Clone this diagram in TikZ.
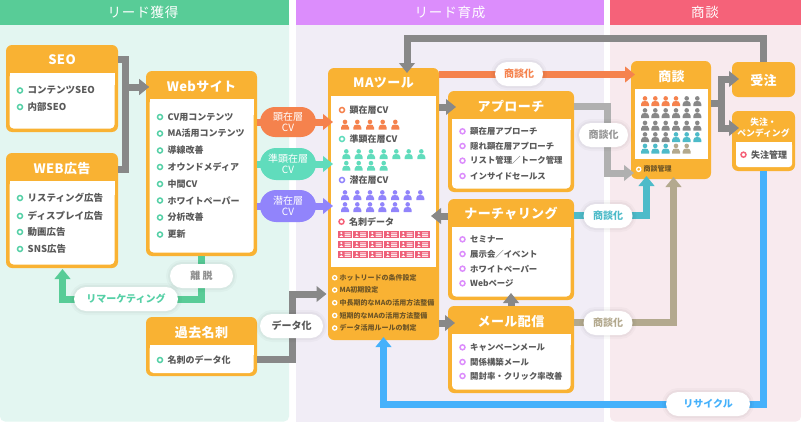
\documentclass[tikz,border=0pt]{standalone}
\usepackage{fontspec}
\setmainfont{Noto Sans CJK JP}
\newfontfamily\ttlfont[LetterSpace=3]{Noto Sans CJK JP}
\newfontfamily\hdfont[LetterSpace=6]{Noto Sans CJK JP}
\usetikzlibrary{arrows.meta,shapes.misc}
\definecolor{boxor}{HTML}{F9B233}
\definecolor{cgreen}{HTML}{58CC97}
\definecolor{cbullet}{HTML}{55D0A6}
\definecolor{cpur}{HTML}{DC8DFC}
\definecolor{cpink}{HTML}{F56279}
\definecolor{bgg}{HTML}{E3F6F1}
\definecolor{bgp}{HTML}{F1EDF6}
\definecolor{bgr}{HTML}{F8EAEE}
\definecolor{corg}{HTML}{F5824D}
\definecolor{cteal}{HTML}{60DCBC}
\definecolor{cvio}{HTML}{9184FB}
\definecolor{cgry}{HTML}{888888}
\definecolor{clgry}{HTML}{B0B0B0}
\definecolor{ccyan}{HTML}{4DBBC9}
\definecolor{ctan}{HTML}{B3A98E}
\definecolor{cblue}{HTML}{45B1FB}
\definecolor{ctxt}{HTML}{595959}
\definecolor{cbrown}{HTML}{6E5526}
\definecolor{ccard}{HTML}{EE6079}
\newcounter{itc}
\def\itsz{8.4}
\tikzset{
  obox/.style={fill=boxor,rounded corners=6pt,inner sep=0pt,outer sep=0pt,anchor=north west},
  ttl/.style={text=white,font=\ttlfont\bfseries\fontsize{13}{13}\selectfont,inner sep=0pt},
  itemtxt/.style={text=ctxt,anchor=west,inner sep=0pt,font=\bfseries\fontsize{\itsz}{10}\selectfont},
  bul/.style={circle,fill=white,line width=1.5pt,minimum size=5pt,inner sep=0pt},
  conn/.style={line width=7pt,-{Triangle[width=15.5pt,length=10pt]}},
  whitepill/.style={rounded rectangle,fill=white,inner sep=0pt,minimum height=24pt,
    preaction={draw=black,opacity=.025,line width=8pt},
    preaction={draw=black,opacity=.03,line width=4pt},
    font=\bfseries\fontsize{10}{10}\selectfont},
  cvpill/.style={rounded rectangle,inner sep=0pt,minimum width=56pt,text=white,align=center,
    font=\fontsize{10}{11}\selectfont},
  head/.style={text=white,inner sep=0pt,font=\hdfont\fontsize{13.5}{14}\selectfont},
}
\newcommand{\litem}[4]{\stepcounter{itc}%
  \node[bul,draw=#1] (b\theitc) at (#2,#3) {};
  \node[itemtxt] (t\theitc) at (#2+7.5,#3) {#4};}
\newcommand{\oitem}[3]{\stepcounter{itc}%
  \node[circle,draw=white,fill=boxor,line width=1.3pt,minimum size=4.2pt,inner sep=0pt] (b\theitc) at (#1,#2) {};
  \node[itemtxt,text=cbrown,font=\bfseries\fontsize{7}{8}\selectfont] (t\theitc) at (#1+4.8,#2) {#3};}
\newcommand{\prsn}[3]{\fill[#3] (#1,#2-2.6) circle (2.3);
  \fill[#3] (#1-4,#2+5) -- (#1-4,#2+3) .. controls (#1-4,#2+0.6) and (#1-2,#2) .. (#1,#2) .. controls (#1+2,#2) and (#1+4,#2+0.6) .. (#1+4,#2+3) -- (#1+4,#2+5) -- cycle;}
\newcommand{\cardic}[2]{\fill[ccard] (#1,#2) rectangle (#1+14.4,#2+7.6);
  \fill[white] (#1+3.6,#2+2.4) circle (1.2);
  \fill[white] (#1+1.6,#2+6.2) .. controls (#1+1.8,#2+3.8) and (#1+5.4,#2+3.8) .. (#1+5.6,#2+6.2) -- cycle;
  \fill[white!85!ccard] (#1+7,#2+1.6) rectangle (#1+13,#2+2.6) (#1+7,#2+3.4) rectangle (#1+13,#2+4.4) (#1+7,#2+5.2) rectangle (#1+13,#2+6.2);}
\begin{document}
\begin{tikzpicture}[x=1pt,y=-1pt]
\useasboundingbox (0,0) rectangle (801,423);
\fill[white] (0,0) rectangle (801,423);
% panels
\fill[bgg,rounded corners=5pt] (0,10) rectangle (289,421.5);
\fill[bgp] (296,10) rectangle (604,421.5);
\fill[bgr,rounded corners=5pt] (610,10) rectangle (801,421.5);
\fill[cgreen] (0,0) rectangle (289,25);
\fill[cpur] (296,0) rectangle (604,25);
\fill[cpink] (610,0) rectangle (801,25);
\node[head] (h1) at (143,12) {リード獲得};
\node[head] (h2) at (450,12) {リード育成};
\node[head] (h3) at (705,12) {商談};
% boxes
\node[obox,minimum width=112pt,minimum height=87pt] (seo) at (6,45) {};
\fill[white,rounded corners=4pt] (9.5,73) rectangle (114.5,128.5); \fill[white] (9.5,73) rectangle (114.5,85);
\node[ttl] (seot) at (62,60) {SEO};
\node[obox,minimum width=112pt,minimum height=115pt] (webad) at (6,153) {};
\fill[white,rounded corners=4pt] (9.5,181) rectangle (114.5,264.5); \fill[white] (9.5,181) rectangle (114.5,195);
\node[ttl] (webadt) at (62,168.5) {WEB広告};
\node[obox,minimum width=111pt,minimum height=185pt] (web) at (146,71) {};
\fill[white,rounded corners=4pt] (149.5,99) rectangle (253.5,252.5); \fill[white] (149.5,99) rectangle (253.5,115);
\node[ttl] (webt) at (201.5,86.5) {Webサイト};
\node[obox,minimum width=111pt,minimum height=59pt] (kako) at (146,317) {};
\fill[white,rounded corners=4pt] (149.5,345) rectangle (253.5,373); \fill[white] (149.5,345) rectangle (253.5,355);
\node[ttl] (kakot) at (201.5,333) {過去名刺};
\node[obox,minimum width=111pt,minimum height=272pt] (ma) at (328,68) {};
\fill[white] (331,96) rectangle (436,267);
\node[ttl] (mat) at (383.5,83) {MAツール};
\node[obox,minimum width=126pt,minimum height=101pt] (appr) at (448,91) {};
\fill[white,rounded corners=4pt] (452,119) rectangle (570.5,188.5); \fill[white] (452,119) rectangle (570.5,130);
\node[ttl] (apprt) at (511,106) {アプローチ};
\node[obox,minimum width=126pt,minimum height=101pt] (nur) at (448,199) {};
\fill[white,rounded corners=4pt] (452,227) rectangle (570.5,296.5); \fill[white] (452,227) rectangle (570.5,238);
\node[ttl] (nurt) at (511,214) {ナーチャリング};
\node[obox,minimum width=126pt,minimum height=87pt] (mail) at (448,306) {};
\fill[white,rounded corners=4pt] (452,334) rectangle (570.5,389.5); \fill[white] (452,334) rectangle (570.5,345);
\node[ttl] (mailt) at (511,322) {メール配信};
\node[obox,minimum width=80pt,minimum height=118pt] (shodan) at (631,61) {};
\fill[white] (635,89) rectangle (708,159);
\node[ttl] (shodant) at (671.5,76.5) {商談};
\node[obox,minimum width=63pt,minimum height=35pt] (juchu) at (732,62) {};
\node[ttl] (juchut) at (763.5,80) {受注};
\node[obox,minimum width=63pt,minimum height=60pt] (shitchu) at (732,111) {};
\fill[white,rounded corners=3pt] (736,142) rectangle (792,167); \fill[white] (736,142) rectangle (792,150);
\node[ttl,font=\bfseries\fontsize{8.8}{11}\selectfont,align=center] (shitchut) at (763.5,127.5) {失注・\\ペンディング};
% items
\def\itsz{9.5}
\foreach \yy/\tx in {90.5/コンテンツSEO,107/内部SEO} {\litem{cbullet}{20}{\yy}{\tx}}
\foreach \yy/\tx in {198/リスティング広告,216/ディスプレイ広告,232/動画広告,249/SNS広告} {\litem{cbullet}{20}{\yy}{\tx}}
\def\itsz{9}
\foreach \yy/\tx in {117/CV用コンテンツ,133.5/MA活用コンテンツ,150.5/導線改善,167/オウンドメディア,184/中間CV,200.5/ホワイトペーパー,217.5/分析改善,234.5/更新} {\litem{cbullet}{160}{\yy}{\tx}}
\litem{cbullet}{160}{360}{名刺のデータ化}
\def\itsz{8.4}
\foreach \yy/\tx in {131.3/顕在層アプローチ,146/隠れ顕在層アプローチ,160.7/リスト管理／トーク管理,176/インサイドセールス} {\litem{cpur}{462.5}{\yy}{\tx}}
\foreach \yy/\tx in {239.3/セミナー,254/展示会／イベント,268.7/ホワイトペーパー,283.3/Webページ} {\litem{cpur}{462.5}{\yy}{\tx}}
\foreach \yy/\tx in {347.3/キャンペーンメール,362/関係構築メール,376/開封率・クリック率改善} {\litem{cpur}{462.5}{\yy}{\tx}}
\def\itsz{9}
\litem{corg}{342}{110}{顕在層CV}
\litem{cteal}{342}{139}{準顕在層CV}
\litem{cvio}{342}{180}{潜在層CV}
\litem{cpink}{341.5}{221.7}{名刺データ}
\litem{cpink}{743.5}{154.7}{失注管理}
\foreach \yy/\tx in {277.7/ホットリードの条件設定,290/MA初期設定,302.7/中長期的なMAの活用方法整備,315.5/短期的なMAの活用方法整備,328/データ活用ルールの制定} {\oitem{334.7}{\yy}{\tx}}
\oitem{638.7}{169.3}{商談管理}
% people
\foreach \xx in {345,357.3,370,382.7,395.3} {\prsn{\xx}{124.5}{corg}}
\foreach \xx in {346.3,358.7,371,383.7,396.3,408.7,421.3} {\prsn{\xx}{154}{cteal}}
\foreach \xx in {346.3,358.7,371,383.7} {\prsn{\xx}{165.7}{cteal}}
\foreach \xx in {345,357.3,370,382.3,395,407.7,420.3} {\prsn{\xx}{195}{cvio}}
\foreach \xx in {345,357.3,370,382.3,395,407.7} {\prsn{\xx}{207}{cvio}}
\foreach \yy in {230.7,240.7,250.7} {\foreach \xx in {337.7,353.2,368.7,384.2,399.7,415.2} {\cardic{\xx}{\yy}}}
\foreach \xx/\cc in {645/corg,655.3/corg,665.7/corg,676/corg,686.7/cgry,697.3/cgry} {\prsn{\xx}{101}{\cc}}
\foreach \xx in {645,655.3,665.7,676,686.7,697.3} {\prsn{\xx}{113}{cgry}\prsn{\xx}{125.5}{cgry}}
\foreach \xx/\cc in {645/cgry,655.3/cgry,665.7/cgry,676/ccyan,686.7/ccyan,697.3/ccyan} {\prsn{\xx}{137}{\cc}}
\foreach \xx/\cc in {645/ccyan,655.3/ccyan,665.7/ccyan,676/ctan,686.7/ctan} {\prsn{\xx}{148.5}{\cc}}
% connectors
\draw[conn,cgry] ([yshift=29.5pt]seo.east) -- ++(7.5,0) |- ([xshift=3pt,yshift=76.5pt]web.west);
\draw[conn,cgry] ([yshift=41.5pt]webad.east) -- ++(7.5,0) |- ([xshift=3pt,yshift=76.5pt]web.west);
\draw[conn,corg] ([yshift=41.5pt]web.east) -- ([xshift=5pt,yshift=82pt]ma.west);
\draw[conn,cteal] ([yshift=-0.5pt]web.east) -- ([xshift=5pt,yshift=40pt]ma.west);
\draw[conn,cvio] ([yshift=-42.5pt]web.east) -- ([xshift=5pt,yshift=-2pt]ma.west);
\draw[conn,cgry] (juchu.north) -- ++(0,-23.5) -| ([xshift=23.5pt,yshift=-5pt]ma.north);
\draw[conn,corg] ([yshift=129.5pt]ma.east) -- ([xshift=4pt,yshift=45.5pt]shodan.west);
\draw[conn,cgry] ([yshift=97pt]ma.east) -- ([xshift=8pt,yshift=34.5pt]appr.west);
\draw[conn,cgry] ([yshift=33.5pt]nur.west) -- ([xshift=-8pt,yshift=-12pt]ma.east);
\draw[conn,cgry] ([yshift=-119pt]ma.east) -- ([xshift=7pt,yshift=26.5pt]mail.west);
\draw[conn,cgry] (mail.north) -- ([yshift=7pt]nur.south);
\draw[conn,clgry] ([yshift=35pt]appr.east) -- ++(33,0) |- ([xshift=3pt,yshift=-53pt]shodan.west);
\draw[conn,ccyan] ([yshift=34.5pt]nur.east) -| ([xshift=-24.5pt,yshift=3pt]shodan.south);
\draw[conn,ctan] ([yshift=27pt]mail.east) -| ([xshift=2.5pt,yshift=2pt]shodan.south);
\draw[conn,cblue] (shitchu.south) -- ++(0,233) -| ([yshift=3pt]ma.south);
\draw[conn,cgry] ([yshift=17pt]shodan.east) -- ++(10.5,0) |- ([xshift=7pt,yshift=0.5pt]juchu.west);
\draw[conn,cgry] ([yshift=17pt]shodan.east) -- ++(10.5,0) |- ([xshift=7pt,yshift=13pt]shitchu.west);
\draw[conn,cgreen] (web.south) -- ++(0,43) -| ([xshift=0.5pt,yshift=-1pt]webad.south);
\draw[conn,cgry] ([yshift=-12.5pt]kako.east) -- ++(35,0) |- ([xshift=-1.5pt,yshift=-90pt]ma.west);
% pills
\node[cvpill,fill=corg,minimum height=30pt] (p1) at (288,122) {顕在層\\CV};
\node[cvpill,fill=cteal,minimum height=32pt] (p2) at (288,164) {準顕在層\\CV};
\node[cvpill,fill=cvio,minimum height=32pt] (p3) at (288,206) {潜在層\\CV};
\node[whitepill,minimum width=63pt,text=clgry!80!black] (w1) at (201.5,276) {離 脱};
\node[whitepill,minimum width=104pt,text=cbullet] (w2) at (126,299) {リマーケティング};
\node[whitepill,minimum width=63pt,text=ctxt] (w3) at (291.5,326) {データ化};
\node[whitepill,minimum width=48pt,text=corg] (w4) at (519,74) {商談化};
\node[whitepill,minimum width=49pt,text=clgry!85!black] (w5) at (603.5,135) {商談化};
\node[whitepill,minimum width=49pt,text=ccyan] (w6) at (608,216) {商談化};
\node[whitepill,minimum width=49pt,text=ctan] (w7) at (608,323) {商談化};
\node[whitepill,minimum width=84pt,text=cblue] (w8) at (708,404) {リサイクル};
\end{tikzpicture}
\end{document}
